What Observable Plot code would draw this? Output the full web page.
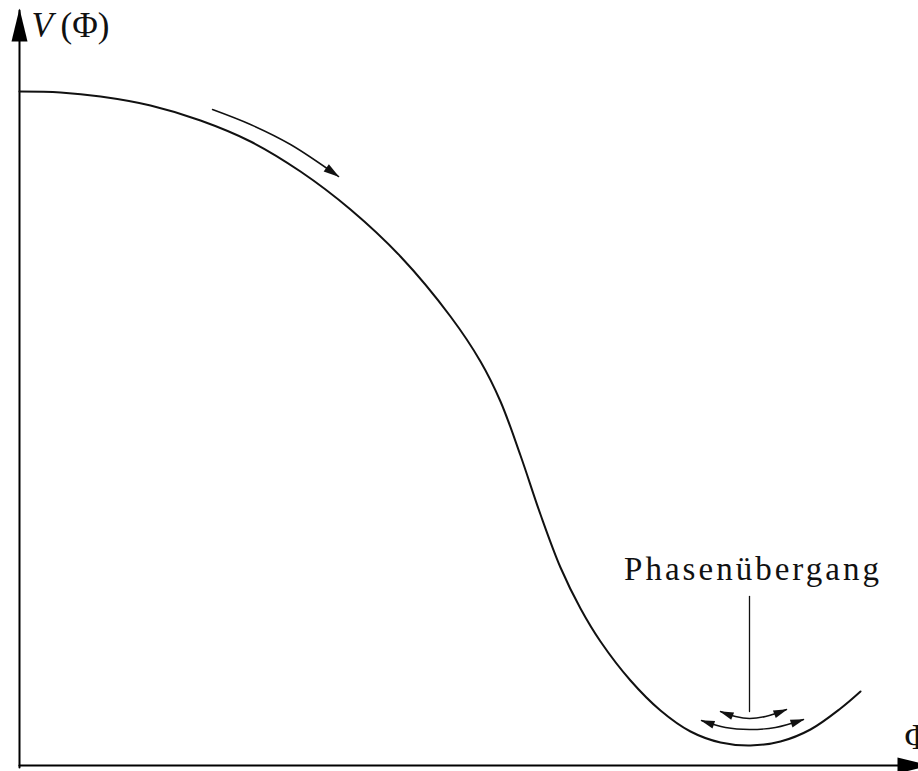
<!DOCTYPE html>
<html>
<head>
<meta charset="utf-8">
<script src="https://cdn.jsdelivr.net/npm/d3@7"></script>
<script src="https://cdn.jsdelivr.net/npm/@observablehq/plot@0.6"></script>
<style>
  html, body { margin: 0; padding: 0; background: #fff; overflow: hidden; }
  #chart svg { display: block; }
</style>
</head>
<body>
<div id="chart"></div>
<script>
// Potential V(Φ) (arbitrary units)
const curvePhi = [0, 0.41, 0.81, 1.31, 1.81, 2.31, 2.81, 3.31, 3.81, 4.31, 4.61, 4.81, 5.01, 5.21, 5.41, 5.61, 5.81, 6.11, 6.41, 6.71, 7.01, 7.31, 7.61, 7.91, 8.21, 8.41];
const curveV   = [6.74, 6.73, 6.69, 6.60, 6.45, 6.24, 5.94, 5.56, 5.09, 4.49, 4.04, 3.64, 3.10, 2.51, 1.98, 1.57, 1.24, 0.85, 0.55, 0.34, 0.23, 0.20, 0.24, 0.36, 0.57, 0.74];

// "rolling" arrow along the upper part of the curve
const flowPhi = [1.93, 2.31, 2.71, 3.19];
const flowV   = [6.56, 6.41, 6.21, 5.89];

// oscillation arrows at the minimum
const upperPhi = [7.01, 7.16, 7.30, 7.46, 7.67];
const upperV   = [0.54, 0.49, 0.47, 0.49, 0.56];
const lowerPhi = [6.82, 7.06, 7.30, 7.56, 7.84];
const lowerV   = [0.45, 0.38, 0.36, 0.38, 0.46];

// pointer from the annotation to the minimum
const pointerPhi = [7.30, 7.30];
const pointerV   = [1.69, 0.54];

// coordinate axes (Φ, V)
const yAxisPhi = [0, 0];
const yAxisV   = [-0.02, 7.55];
const xAxisPhi = [0, 9.09];
const xAxisV   = [0, 0];

// labels
const yLabelParts = ["V", "(Φ)"];
const yLabelPhi = [0.12, 0.41];
const yLabelV = [7.29, 7.29];
const xLabel = ["Φ"];
const xLabelPhi = [8.85];
const xLabelV = [0.17];
const annotation = ["Phasenübergang"];
const annotationPhi = [7.32];
const annotationV = [1.86];

const pts = (xs, ys) => xs.map((x, i) => ({phi: x, V: ys[i]}));

function head(len, half, over) {
  return (color, context) => {
    const doc = (context && context.document) || document;
    const m = d3.select(doc.createElementNS("http://www.w3.org/2000/svg", "marker"))
      .attr("viewBox", `${-len + over} ${-half} ${len} ${2 * half}`)
      .attr("markerUnits", "userSpaceOnUse")
      .attr("markerWidth", len)
      .attr("markerHeight", 2 * half)
      .attr("refX", 0)
      .attr("refY", 0)
      .attr("overflow", "visible")
      .attr("orient", "auto-start-reverse")
      .attr("fill", color)
      .attr("stroke", "none");
    m.append("path").attr("d", `M${-len + over},${-half}L${over},0L${-len + over},${half}Z`);
    return m.node();
  };
}

const font = "'Liberation Serif', 'Times New Roman', serif";

const chart = Plot.plot({
  width: 918,
  height: 771,
  margin: 0,
  x: {domain: [-0.19, 8.99], axis: null},
  y: {domain: [-0.06, 7.65], axis: null},
  style: {fontFamily: font, background: "#fff", color: "#000"},
  marks: [
    Plot.line(pts(yAxisPhi, yAxisV), {x: "phi", y: "V", stroke: "#000", strokeWidth: 2, markerEnd: head(33, 8, 2)}),
    Plot.line(pts(xAxisPhi, xAxisV), {x: "phi", y: "V", stroke: "#000", strokeWidth: 2.2, markerEnd: head(33, 8, 2)}),
    Plot.line(pts(curvePhi, curveV), {x: "phi", y: "V", curve: "catmull-rom", stroke: "#111", strokeWidth: 2}),
    Plot.line(pts(flowPhi, flowV), {x: "phi", y: "V", curve: "catmull-rom", stroke: "#111", strokeWidth: 1.5, markerEnd: head(16, 4.5, 1)}),
    Plot.line(pts(upperPhi, upperV), {x: "phi", y: "V", curve: "catmull-rom", stroke: "#111", strokeWidth: 1.4, markerStart: head(14, 4, 1), markerEnd: head(14, 4, 1)}),
    Plot.line(pts(lowerPhi, lowerV), {x: "phi", y: "V", curve: "catmull-rom", stroke: "#111", strokeWidth: 1.4, markerStart: head(14, 4, 1), markerEnd: head(14, 4, 1)}),
    Plot.line(pts(pointerPhi, pointerV), {x: "phi", y: "V", stroke: "#111", strokeWidth: 1.3}),
    Plot.text([0], {x: () => yLabelPhi[0], y: () => yLabelV[0], text: () => yLabelParts[0], textAnchor: "start", lineAnchor: "bottom", fontSize: 35, fontStyle: "italic", fill: "#111"}),
    Plot.text([0], {x: () => yLabelPhi[1], y: () => yLabelV[1], text: () => yLabelParts[1], textAnchor: "start", lineAnchor: "bottom", fontSize: 35, fill: "#111"}),
    Plot.text(xLabel, {x: (d, i) => xLabelPhi[i], y: (d, i) => xLabelV[i], text: d => d, textAnchor: "start", lineAnchor: "bottom", fontSize: 35, fill: "#111"}),
    Plot.text(annotation, {x: (d, i) => annotationPhi[i], y: (d, i) => annotationV[i], text: d => d, textAnchor: "middle", lineAnchor: "bottom", fontSize: 33, fill: "#111"})
  ]
});

d3.select(chart).selectAll("text")
  .filter(function () { return this.textContent === "Phasenübergang"; })
  .attr("textLength", 255)
  .attr("lengthAdjust", "spacing");

document.getElementById("chart").append(chart);
</script>
</body>
</html>
